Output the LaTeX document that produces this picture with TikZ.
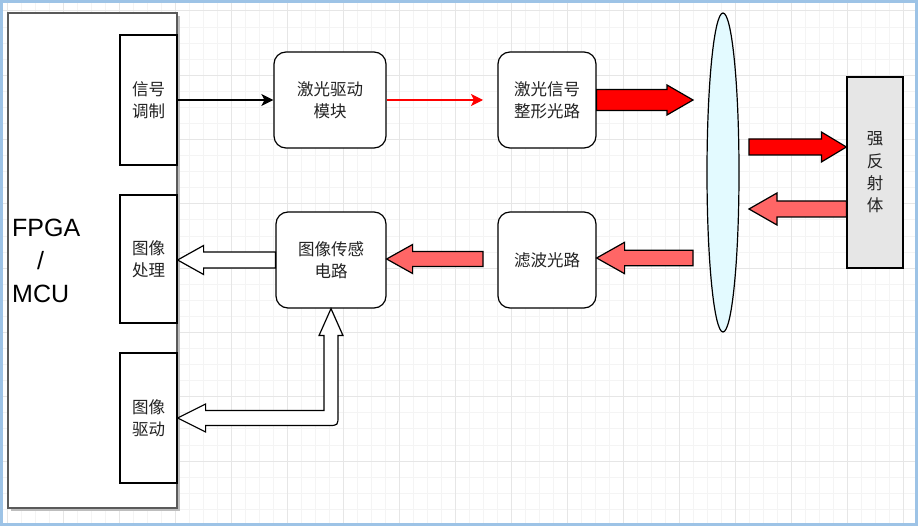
\documentclass[tikz,border=0pt]{standalone}
\usepackage{fontspec}
\setmainfont{Liberation Sans}
\newfontfamily\cjk{Noto Sans CJK SC}
\usetikzlibrary{arrows.meta,calc,shapes.geometric}
\definecolor{frameblue}{HTML}{9DC3E6}
\definecolor{lightred}{HTML}{FF6666}
\definecolor{lensfill}{HTML}{E3FAFF}
\definecolor{reflfill}{HTML}{E6E6E6}
\definecolor{gridminor}{HTML}{F4F4F4}
\definecolor{gridmajor}{HTML}{E6E6E6}
\definecolor{txt}{HTML}{222222}
\definecolor{fpgaedge}{HTML}{5A5A5A}
\definecolor{shadowgray}{HTML}{BDBDBD}
\newcommand\cjkfs{\cjk\fontsize{16.5}{21.7}\selectfont}
\newcommand\rblockarrow[6]{%
  \draw[#1] let \p1=(#2), \p2=(#3) in
   (\x1,\y1+#4) -- (\x2-#6,\y1+#4) -- (\x2-#6,\y1+#5) -- (\x2,\y1)
   -- (\x2-#6,\y1-#5) -- (\x2-#6,\y1-#4) -- (\x1,\y1-#4) -- cycle;}
\newcommand\lblockarrow[6]{%
  \draw[#1] let \p1=(#2), \p2=(#3) in
   (\x1,\y1+#4) -- (\x2+#6,\y1+#4) -- (\x2+#6,\y1+#5) -- (\x2,\y1)
   -- (\x2+#6,\y1-#5) -- (\x2+#6,\y1-#4) -- (\x1,\y1-#4) -- cycle;}
\begin{document}
\begin{tikzpicture}[x=1pt,y=-1pt,
  sqbox/.style={draw=black,line width=1.2pt,fill=white,inner sep=0pt,rectangle,text=txt,font=\cjkfs,align=center},
  rbox/.style={sqbox,rounded corners=12pt},
  blk/.style={draw=black,line width=1.2pt,line join=miter},
  thinarrow/.style={line width=1.2pt,-{Stealth[length=12pt,width=12pt,inset=3pt]}}]
\useasboundingbox (0,0) rectangle (918,526);
\fill[white] (0,0) rectangle (918,526);
% grid
\begin{scope}
\clip (3,3) rectangle (915,523);
\foreach \i in {0,...,65} \draw[gridminor,line width=0.8pt] ({7.3+14*\i},0) -- ({7.3+14*\i},526);
\foreach \i in {0,...,32} \draw[gridminor,line width=0.8pt] (0,{10.9+16.075*\i}) -- (918,{10.9+16.075*\i});
\foreach \i in {0,...,16} \draw[gridmajor,line width=0.8pt] ({7.3+56*\i},0) -- ({7.3+56*\i},526);
\foreach \i in {0,...,8} \draw[gridmajor,line width=0.8pt] (0,{10.9+64.3*\i}) -- (918,{10.9+64.3*\i});
\end{scope}
\draw[frameblue,line width=3pt] (1.5,1.5) rectangle (916.5,524.5);
% FPGA block
\fill[shadowgray] (11,16) rectangle (180,511);
\node[sqbox,draw=fpgaedge,minimum width=169pt,minimum height=495pt] (fpga) at (92.5,260.5) {};
\node[anchor=west,inner sep=0pt,align=left,font=\fontsize{25}{33}\selectfont,text=black] (fpgatext) at (12,261) {FPGA\\\hspace*{25pt}/\\MCU};
\node[sqbox,minimum width=57pt,minimum height=130pt] (mod) at (148.5,100) {信号\\调制};
\node[sqbox,minimum width=57pt,minimum height=128pt] (proc) at (148.5,259) {图像\\处理};
\node[sqbox,minimum width=57pt,minimum height=130pt] (drv) at (148.5,418) {图像\\驱动};
% other blocks
\node[rbox,minimum width=112pt,minimum height=96pt] (ldrv) at (330,100) {激光驱动\\模块};
\node[rbox,minimum width=98pt,minimum height=96pt] (shaping) at (547,100) {激光信号\\整形光路};
\node[rbox,minimum width=110pt,minimum height=96pt] (sens) at (331,260) {图像传感\\电路};
\node[rbox,minimum width=98pt,minimum height=96pt] (filt) at (547,260) {滤波光路};
\node[ellipse,draw=black,line width=1.2pt,fill=lensfill,minimum width=32pt,minimum height=319pt,inner sep=0pt] (lens) at (723,172.5) {};
\node[sqbox,fill=reflfill,minimum width=56pt,minimum height=191pt,font=\cjk\fontsize{16.5}{22.3}\selectfont] (refl) at (875,172.5) {强\\反\\射\\体};
% free ends
\coordinate (redend) at (483,100);
\coordinate (sigtip) at (693,100);
\coordinate (s1) at (749,147);
\coordinate (t2) at (749,209);
\coordinate (s3) at (693,258);
\coordinate (s4) at (483,259);
% connectors
\draw[thinarrow,black] (mod) -- (ldrv);
\draw[thinarrow,red] (ldrv) -- (redend);
\rblockarrow{blk,fill=red}{shaping.east}{sigtip}{10.5pt}{15pt}{26pt}
\rblockarrow{blk,fill=red}{s1}{refl.west |- s1}{8pt}{15pt}{25pt}
\lblockarrow{blk,fill=lightred}{refl.west |- t2}{t2}{8pt}{16pt}{28pt}
\lblockarrow{blk,fill=lightred}{s3}{filt.east |- s3}{7.7pt}{15.7pt}{28pt}
\lblockarrow{blk,fill=lightred}{s4}{sens.east |- s4}{7.5pt}{14.5pt}{26pt}
\lblockarrow{blk,fill=white}{sens.west}{proc.east |- sens.west}{8pt}{14.5pt}{26pt}
\draw[blk,fill=white] let \p1=(drv.east), \p2=(sens.south) in
 (\x1,\y1) -- (\x1+28pt,\y1+14pt) -- (\x1+28pt,\y1+7.5pt) -- (\x2-7pt,\y1+7.5pt)
 -- (\x2-7pt,\y2-27pt) -- (\x2-12pt,\y2-27pt) -- (\x2,\y2) -- (\x2+12pt,\y2-27pt)
 -- (\x2+7pt,\y2-27pt) -- (\x2+7pt,\y1-7.5pt+10pt)
 .. controls (\x2+7pt,\y1-7.5pt) .. (\x2-3pt,\y1-7.5pt)
 -- (\x1+28pt,\y1-7.5pt) -- (\x1+28pt,\y1-14pt) -- cycle;
\end{tikzpicture}
\end{document}
